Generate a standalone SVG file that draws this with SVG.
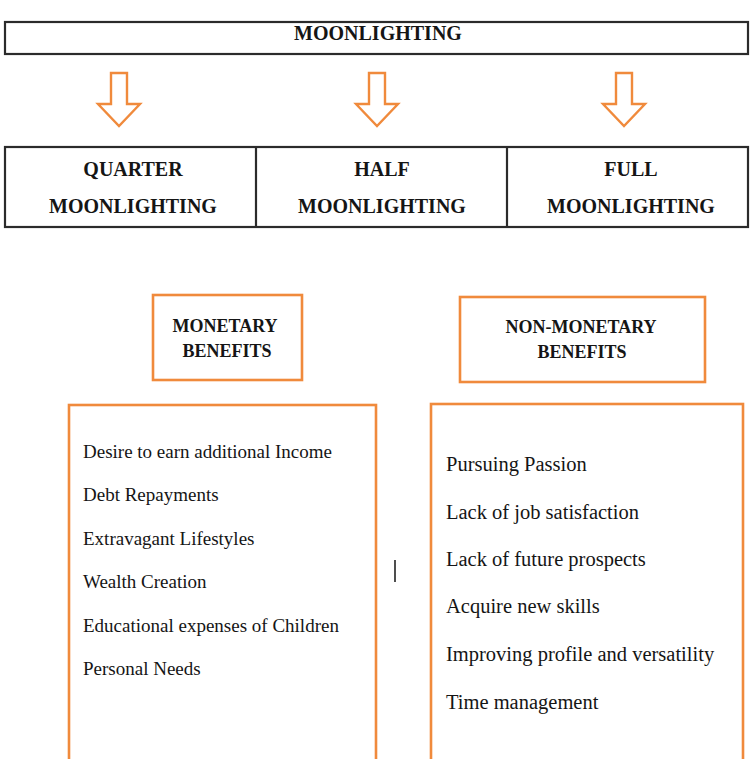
<svg xmlns="http://www.w3.org/2000/svg" width="751" height="759" viewBox="0 0 751 759">
  <style>
    .frame { fill: #ffffff; stroke: #2b2b2b; stroke-width: 2.2; }
    .divider { stroke: #2b2b2b; stroke-width: 2.2; }
    .obox { fill: #ffffff; stroke: #f08a3c; stroke-width: 2.6; }
    .arrow { fill: #ffffff; stroke: #f08a3c; stroke-width: 2.4; stroke-linejoin: miter; }
    .head { font-family: "Liberation Serif", "Times New Roman", serif; font-weight: bold; font-size: 20px; fill: #151515; text-anchor: middle; }
    .sub { font-family: "Liberation Serif", "Times New Roman", serif; font-weight: bold; font-size: 18px; fill: #151515; text-anchor: middle; }
    .item { font-family: "Liberation Serif", "Times New Roman", serif; font-size: 19px; fill: #151515; }
    .item-r { font-family: "Liberation Serif", "Times New Roman", serif; font-size: 20.5px; fill: #151515; }
  </style>

  <!-- title bar -->
  <g id="moonlighting">
    <rect class="frame" x="5" y="22" width="743" height="32"/>
    <text class="head" x="378" y="40">MOONLIGHTING</text>
  </g>

  <!-- three kinds of moonlighting in one strip -->
  <g id="types-frame">
    <rect class="frame" x="5" y="147" width="743" height="80"/>
    <line class="divider" x1="256" y1="147" x2="256" y2="227"/>
    <line class="divider" x1="507" y1="147" x2="507" y2="227"/>
  </g>
  <g id="quarter">
    <text class="head" x="133" y="176">QUARTER</text>
    <text class="head" x="133" y="213">MOONLIGHTING</text>
  </g>
  <g id="half">
    <text class="head" x="382" y="176">HALF</text>
    <text class="head" x="382" y="213">MOONLIGHTING</text>
  </g>
  <g id="full">
    <text class="head" x="631" y="176">FULL</text>
    <text class="head" x="631" y="213">MOONLIGHTING</text>
  </g>

  <!-- hollow down arrows -->
  <g id="connectors">
    <polygon class="arrow" points="111,73 127,73 127,104 140,104 119,126 98,104 111,104"/>
    <polygon class="arrow" points="369,73 385,73 385,104 398,104 377,126 356,104 369,104"/>
    <polygon class="arrow" points="616,73 632,73 632,104 645,104 624,126 603,104 616,104"/>
  </g>

  <!-- benefit headings -->
  <g id="monetary">
    <rect class="obox" x="153" y="295" width="149" height="85"/>
    <text class="sub" x="225" y="332">MONETARY</text>
    <text class="sub" x="227" y="357">BENEFITS</text>
  </g>
  <g id="non-monetary">
    <rect class="obox" x="460" y="297" width="245" height="85"/>
    <text class="sub" x="581" y="333">NON-MONETARY</text>
    <text class="sub" x="582" y="358">BENEFITS</text>
  </g>

  <!-- monetary reasons -->
  <g id="monetary-list">
    <rect class="obox" x="69" y="405" width="307" height="370"/>
    <text class="item" x="83" y="458">Desire to earn additional Income</text>
    <text class="item" x="83" y="501">Debt Repayments</text>
    <text class="item" x="83" y="545">Extravagant Lifestyles</text>
    <text class="item" x="83" y="588">Wealth Creation</text>
    <text class="item" x="83" y="632">Educational expenses of Children</text>
    <text class="item" x="83" y="675">Personal Needs</text>
  </g>

  <!-- non-monetary reasons -->
  <g id="non-monetary-list">
    <rect class="obox" x="431" y="404" width="312" height="370"/>
    <text class="item-r" x="446" y="471">Pursuing Passion</text>
    <text class="item-r" x="446" y="519">Lack of job satisfaction</text>
    <text class="item-r" x="446" y="566">Lack of future prospects</text>
    <text class="item-r" x="446" y="613">Acquire new skills</text>
    <text class="item-r" x="446" y="661">Improving profile and versatility</text>
    <text class="item-r" x="446" y="709">Time management</text>
  </g>

  <!-- stray cursor mark -->
  <line x1="395" y1="560" x2="395" y2="582" stroke="#222" stroke-width="1.6"/>
</svg>
